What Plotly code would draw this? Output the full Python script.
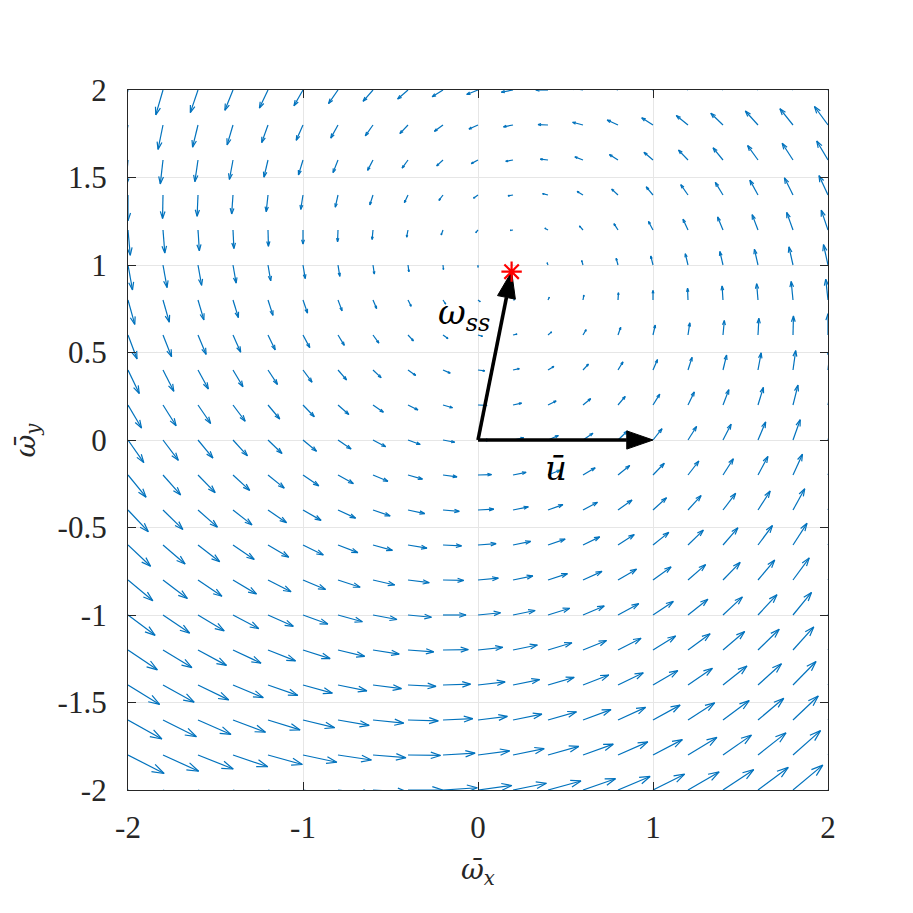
import numpy as np
import plotly.graph_objects as go

# ---------------- data ----------------
X_GRID = [-2.0, -1.8, -1.6, -1.4, -1.2, -1.0, -0.8, -0.6, -0.4, -0.2, 0.0,
          0.2, 0.4, 0.6, 0.8, 1.0, 1.2, 1.4, 1.6, 1.8, 2.0]
Y_GRID = [-2.0, -1.8, -1.6, -1.4, -1.2, -1.0, -0.8, -0.6, -0.4, -0.2, 0.0,
          0.2, 0.4, 0.6, 0.8, 1.0, 1.2, 1.4, 1.6, 1.8, 2.0]

# horizontal component of the field, one row per Y_GRID value
U_FIELD = [
    [3.40, 3.36, 3.32, 3.28, 3.24, 3.20, 3.16, 3.12, 3.08, 3.04, 3.00, 2.96, 2.92, 2.88, 2.84, 2.80, 2.76, 2.72, 2.68, 2.64, 2.60],
    [3.20, 3.16, 3.12, 3.08, 3.04, 3.00, 2.96, 2.92, 2.88, 2.84, 2.80, 2.76, 2.72, 2.68, 2.64, 2.60, 2.56, 2.52, 2.48, 2.44, 2.40],
    [3.00, 2.96, 2.92, 2.88, 2.84, 2.80, 2.76, 2.72, 2.68, 2.64, 2.60, 2.56, 2.52, 2.48, 2.44, 2.40, 2.36, 2.32, 2.28, 2.24, 2.20],
    [2.80, 2.76, 2.72, 2.68, 2.64, 2.60, 2.56, 2.52, 2.48, 2.44, 2.40, 2.36, 2.32, 2.28, 2.24, 2.20, 2.16, 2.12, 2.08, 2.04, 2.00],
    [2.60, 2.56, 2.52, 2.48, 2.44, 2.40, 2.36, 2.32, 2.28, 2.24, 2.20, 2.16, 2.12, 2.08, 2.04, 2.00, 1.96, 1.92, 1.88, 1.84, 1.80],
    [2.40, 2.36, 2.32, 2.28, 2.24, 2.20, 2.16, 2.12, 2.08, 2.04, 2.00, 1.96, 1.92, 1.88, 1.84, 1.80, 1.76, 1.72, 1.68, 1.64, 1.60],
    [2.20, 2.16, 2.12, 2.08, 2.04, 2.00, 1.96, 1.92, 1.88, 1.84, 1.80, 1.76, 1.72, 1.68, 1.64, 1.60, 1.56, 1.52, 1.48, 1.44, 1.40],
    [2.00, 1.96, 1.92, 1.88, 1.84, 1.80, 1.76, 1.72, 1.68, 1.64, 1.60, 1.56, 1.52, 1.48, 1.44, 1.40, 1.36, 1.32, 1.28, 1.24, 1.20],
    [1.80, 1.76, 1.72, 1.68, 1.64, 1.60, 1.56, 1.52, 1.48, 1.44, 1.40, 1.36, 1.32, 1.28, 1.24, 1.20, 1.16, 1.12, 1.08, 1.04, 1.00],
    [1.60, 1.56, 1.52, 1.48, 1.44, 1.40, 1.36, 1.32, 1.28, 1.24, 1.20, 1.16, 1.12, 1.08, 1.04, 1.00, 0.96, 0.92, 0.88, 0.84, 0.80],
    [1.40, 1.36, 1.32, 1.28, 1.24, 1.20, 1.16, 1.12, 1.08, 1.04, 1.00, 0.96, 0.92, 0.88, 0.84, 0.80, 0.76, 0.72, 0.68, 0.64, 0.60],
    [1.20, 1.16, 1.12, 1.08, 1.04, 1.00, 0.96, 0.92, 0.88, 0.84, 0.80, 0.76, 0.72, 0.68, 0.64, 0.60, 0.56, 0.52, 0.48, 0.44, 0.40],
    [1.00, 0.96, 0.92, 0.88, 0.84, 0.80, 0.76, 0.72, 0.68, 0.64, 0.60, 0.56, 0.52, 0.48, 0.44, 0.40, 0.36, 0.32, 0.28, 0.24, 0.20],
    [0.80, 0.76, 0.72, 0.68, 0.64, 0.60, 0.56, 0.52, 0.48, 0.44, 0.40, 0.36, 0.32, 0.28, 0.24, 0.20, 0.16, 0.12, 0.08, 0.04, 0.00],
    [0.60, 0.56, 0.52, 0.48, 0.44, 0.40, 0.36, 0.32, 0.28, 0.24, 0.20, 0.16, 0.12, 0.08, 0.04, 0.00, -0.04, -0.08, -0.12, -0.16, -0.20],
    [0.40, 0.36, 0.32, 0.28, 0.24, 0.20, 0.16, 0.12, 0.08, 0.04, 0.00, -0.04, -0.08, -0.12, -0.16, -0.20, -0.24, -0.28, -0.32, -0.36, -0.40],
    [0.20, 0.16, 0.12, 0.08, 0.04, 0.00, -0.04, -0.08, -0.12, -0.16, -0.20, -0.24, -0.28, -0.32, -0.36, -0.40, -0.44, -0.48, -0.52, -0.56, -0.60],
    [0.00, -0.04, -0.08, -0.12, -0.16, -0.20, -0.24, -0.28, -0.32, -0.36, -0.40, -0.44, -0.48, -0.52, -0.56, -0.60, -0.64, -0.68, -0.72, -0.76, -0.80],
    [-0.20, -0.24, -0.28, -0.32, -0.36, -0.40, -0.44, -0.48, -0.52, -0.56, -0.60, -0.64, -0.68, -0.72, -0.76, -0.80, -0.84, -0.88, -0.92, -0.96, -1.00],
    [-0.40, -0.44, -0.48, -0.52, -0.56, -0.60, -0.64, -0.68, -0.72, -0.76, -0.80, -0.84, -0.88, -0.92, -0.96, -1.00, -1.04, -1.08, -1.12, -1.16, -1.20],
    [-0.60, -0.64, -0.68, -0.72, -0.76, -0.80, -0.84, -0.88, -0.92, -0.96, -1.00, -1.04, -1.08, -1.12, -1.16, -1.20, -1.24, -1.28, -1.32, -1.36, -1.40],
]

# vertical component of the field, one row per Y_GRID value
V_FIELD = [
    [-1.60, -1.40, -1.20, -1.00, -0.80, -0.60, -0.40, -0.20, 0.00, 0.20, 0.40, 0.60, 0.80, 1.00, 1.20, 1.40, 1.60, 1.80, 2.00, 2.20, 2.40],
    [-1.64, -1.44, -1.24, -1.04, -0.84, -0.64, -0.44, -0.24, -0.04, 0.16, 0.36, 0.56, 0.76, 0.96, 1.16, 1.36, 1.56, 1.76, 1.96, 2.16, 2.36],
    [-1.68, -1.48, -1.28, -1.08, -0.88, -0.68, -0.48, -0.28, -0.08, 0.12, 0.32, 0.52, 0.72, 0.92, 1.12, 1.32, 1.52, 1.72, 1.92, 2.12, 2.32],
    [-1.72, -1.52, -1.32, -1.12, -0.92, -0.72, -0.52, -0.32, -0.12, 0.08, 0.28, 0.48, 0.68, 0.88, 1.08, 1.28, 1.48, 1.68, 1.88, 2.08, 2.28],
    [-1.76, -1.56, -1.36, -1.16, -0.96, -0.76, -0.56, -0.36, -0.16, 0.04, 0.24, 0.44, 0.64, 0.84, 1.04, 1.24, 1.44, 1.64, 1.84, 2.04, 2.24],
    [-1.80, -1.60, -1.40, -1.20, -1.00, -0.80, -0.60, -0.40, -0.20, 0.00, 0.20, 0.40, 0.60, 0.80, 1.00, 1.20, 1.40, 1.60, 1.80, 2.00, 2.20],
    [-1.84, -1.64, -1.44, -1.24, -1.04, -0.84, -0.64, -0.44, -0.24, -0.04, 0.16, 0.36, 0.56, 0.76, 0.96, 1.16, 1.36, 1.56, 1.76, 1.96, 2.16],
    [-1.88, -1.68, -1.48, -1.28, -1.08, -0.88, -0.68, -0.48, -0.28, -0.08, 0.12, 0.32, 0.52, 0.72, 0.92, 1.12, 1.32, 1.52, 1.72, 1.92, 2.12],
    [-1.92, -1.72, -1.52, -1.32, -1.12, -0.92, -0.72, -0.52, -0.32, -0.12, 0.08, 0.28, 0.48, 0.68, 0.88, 1.08, 1.28, 1.48, 1.68, 1.88, 2.08],
    [-1.96, -1.76, -1.56, -1.36, -1.16, -0.96, -0.76, -0.56, -0.36, -0.16, 0.04, 0.24, 0.44, 0.64, 0.84, 1.04, 1.24, 1.44, 1.64, 1.84, 2.04],
    [-2.00, -1.80, -1.60, -1.40, -1.20, -1.00, -0.80, -0.60, -0.40, -0.20, 0.00, 0.20, 0.40, 0.60, 0.80, 1.00, 1.20, 1.40, 1.60, 1.80, 2.00],
    [-2.04, -1.84, -1.64, -1.44, -1.24, -1.04, -0.84, -0.64, -0.44, -0.24, -0.04, 0.16, 0.36, 0.56, 0.76, 0.96, 1.16, 1.36, 1.56, 1.76, 1.96],
    [-2.08, -1.88, -1.68, -1.48, -1.28, -1.08, -0.88, -0.68, -0.48, -0.28, -0.08, 0.12, 0.32, 0.52, 0.72, 0.92, 1.12, 1.32, 1.52, 1.72, 1.92],
    [-2.12, -1.92, -1.72, -1.52, -1.32, -1.12, -0.92, -0.72, -0.52, -0.32, -0.12, 0.08, 0.28, 0.48, 0.68, 0.88, 1.08, 1.28, 1.48, 1.68, 1.88],
    [-2.16, -1.96, -1.76, -1.56, -1.36, -1.16, -0.96, -0.76, -0.56, -0.36, -0.16, 0.04, 0.24, 0.44, 0.64, 0.84, 1.04, 1.24, 1.44, 1.64, 1.84],
    [-2.20, -2.00, -1.80, -1.60, -1.40, -1.20, -1.00, -0.80, -0.60, -0.40, -0.20, 0.00, 0.20, 0.40, 0.60, 0.80, 1.00, 1.20, 1.40, 1.60, 1.80],
    [-2.24, -2.04, -1.84, -1.64, -1.44, -1.24, -1.04, -0.84, -0.64, -0.44, -0.24, -0.04, 0.16, 0.36, 0.56, 0.76, 0.96, 1.16, 1.36, 1.56, 1.76],
    [-2.28, -2.08, -1.88, -1.68, -1.48, -1.28, -1.08, -0.88, -0.68, -0.48, -0.28, -0.08, 0.12, 0.32, 0.52, 0.72, 0.92, 1.12, 1.32, 1.52, 1.72],
    [-2.32, -2.12, -1.92, -1.72, -1.52, -1.32, -1.12, -0.92, -0.72, -0.52, -0.32, -0.12, 0.08, 0.28, 0.48, 0.68, 0.88, 1.08, 1.28, 1.48, 1.68],
    [-2.36, -2.16, -1.96, -1.76, -1.56, -1.36, -1.16, -0.96, -0.76, -0.56, -0.36, -0.16, 0.04, 0.24, 0.44, 0.64, 0.84, 1.04, 1.24, 1.44, 1.64],
    [-2.40, -2.20, -2.00, -1.80, -1.60, -1.40, -1.20, -1.00, -0.80, -0.60, -0.40, -0.20, 0.00, 0.20, 0.40, 0.60, 0.80, 1.00, 1.20, 1.40, 1.60],
]

ORIGIN = [0.0, 0.0]
U_BAR = [1.0, 0.0]
OMEGA_SS = [0.192, 0.962]

X_TICKS = [-2, -1, 0, 1, 2]
X_TICK_LABELS = ["-2", "-1", "0", "1", "2"]
Y_TICKS = [-2, -1.5, -1, -0.5, 0, 0.5, 1, 1.5, 2]
Y_TICK_LABELS = ["-2", "-1.5", "-1", "-0.5", "0", "0.5", "1", "1.5", "2"]

# ---------------- quiver construction (MATLAB-like autoscale) ----------------
X, Y = np.meshgrid(np.array(X_GRID), np.array(Y_GRID))
U = np.array(U_FIELD)
V = np.array(V_FIELD)
n = len(X_GRID)
m = len(Y_GRID)
delx = (max(X_GRID) - min(X_GRID)) / n
dely = (max(Y_GRID) - min(Y_GRID)) / m
dl = delx ** 2 + dely ** 2
maxlen = np.max(np.sqrt((U ** 2 + V ** 2) / dl))
scale = 0.9 / maxlen
us = U * scale
vs = V * scale

alpha, beta = 0.30, 0.33
xs, ys = [], []
for xi, yi, ui, vi in zip(X.ravel(), Y.ravel(), us.ravel(), vs.ravel()):
    xe, ye = xi + ui, yi + vi
    xs += [xi, xe, None]
    ys += [yi, ye, None]
    xs += [xe - alpha * (ui + beta * vi), xe, xe - alpha * (ui - beta * vi), None]
    ys += [ye - alpha * (vi - beta * ui), ye, ye - alpha * (vi + beta * ui), None]

BLUE = "#0072BD"
fig = go.Figure()
fig.add_trace(go.Scatter(x=xs, y=ys, mode="lines",
                         line=dict(color=BLUE, width=1.2),
                         hoverinfo="skip", showlegend=False))

# ---------------- black vectors ----------------
HEAD_L = 0.15
HEAD_W = 0.052


def black_arrow(start, end):
    s = np.array(start, float)
    e = np.array(end, float)
    d = e - s
    L = np.hypot(*d)
    d = d / L
    nrm = np.array([-d[1], d[0]])
    base = e - HEAD_L * d
    fig.add_trace(go.Scatter(x=[s[0], base[0]], y=[s[1], base[1]], mode="lines",
                             line=dict(color="black", width=3.6),
                             hoverinfo="skip", showlegend=False))
    tri = [base + HEAD_W * nrm, e, base - HEAD_W * nrm, base + HEAD_W * nrm]
    fig.add_trace(go.Scatter(x=[p[0] for p in tri], y=[p[1] for p in tri],
                             mode="lines", fill="toself", fillcolor="black",
                             line=dict(color="black", width=1),
                             hoverinfo="skip", showlegend=False))


black_arrow(ORIGIN, U_BAR)
black_arrow(ORIGIN, OMEGA_SS)

fig.add_trace(go.Scatter(x=[OMEGA_SS[0]], y=[OMEGA_SS[1]], mode="markers",
                         marker=dict(symbol="asterisk-open", size=17, color="red",
                                     line=dict(color="red", width=2.2)),
                         hoverinfo="skip", showlegend=False))

TICK_FONT = "Liberation Serif, serif"
LABEL_FONT = "DejaVu Serif"
TICK_SIZE = 31

fig.add_annotation(x=-0.08, y=0.72, xref="x", yref="y", showarrow=False,
                   xanchor="center", yanchor="middle",
                   text="<i>ω</i><sub><i>ss</i></sub>",
                   font=dict(family=LABEL_FONT, size=34, color="black"))
fig.add_annotation(x=0.445, y=-0.16, xref="x", yref="y", showarrow=False,
                   xanchor="center", yanchor="middle",
                   text="<i>ū</i>",
                   font=dict(family=LABEL_FONT, size=34, color="black"))

fig.add_annotation(x=0.5, y=-0.117, xref="paper", yref="paper", showarrow=False,
                   xanchor="center", yanchor="middle",
                   text="<i>ω̄</i><sub><i>x</i></sub>",
                   font=dict(family=LABEL_FONT, size=28, color="#262626"))
fig.add_annotation(x=-0.145, y=0.5, xref="paper", yref="paper", showarrow=False,
                   xanchor="center", yanchor="middle", textangle=-90,
                   text="<i>ω̄</i><sub><i>y</i></sub>",
                   font=dict(family=LABEL_FONT, size=28, color="#262626"))

axis_common = dict(
    range=[-2, 2], showgrid=True, gridcolor="#e6e6e6", gridwidth=1,
    zeroline=False, showline=True, linecolor="#262626", linewidth=1.2,
    mirror="ticks", ticks="inside", ticklen=8, tickwidth=1.2, tickcolor="#262626",
    tickfont=dict(family=TICK_FONT, size=TICK_SIZE, color="#262626"),
)

# the page body has an 8px margin, so the figure is 905 px and margins are shifted
fig.update_layout(
    width=905, height=905,
    margin=dict(l=120, r=85, t=82, b=123),
    paper_bgcolor="white", plot_bgcolor="white",
    xaxis=dict(**axis_common, tickvals=X_TICKS, ticktext=X_TICK_LABELS,
               ticklabelstandoff=10),
    yaxis=dict(**axis_common, tickvals=Y_TICKS, ticktext=Y_TICK_LABELS,
               ticklabelstandoff=14),
)

fig.write_html("out.html")
